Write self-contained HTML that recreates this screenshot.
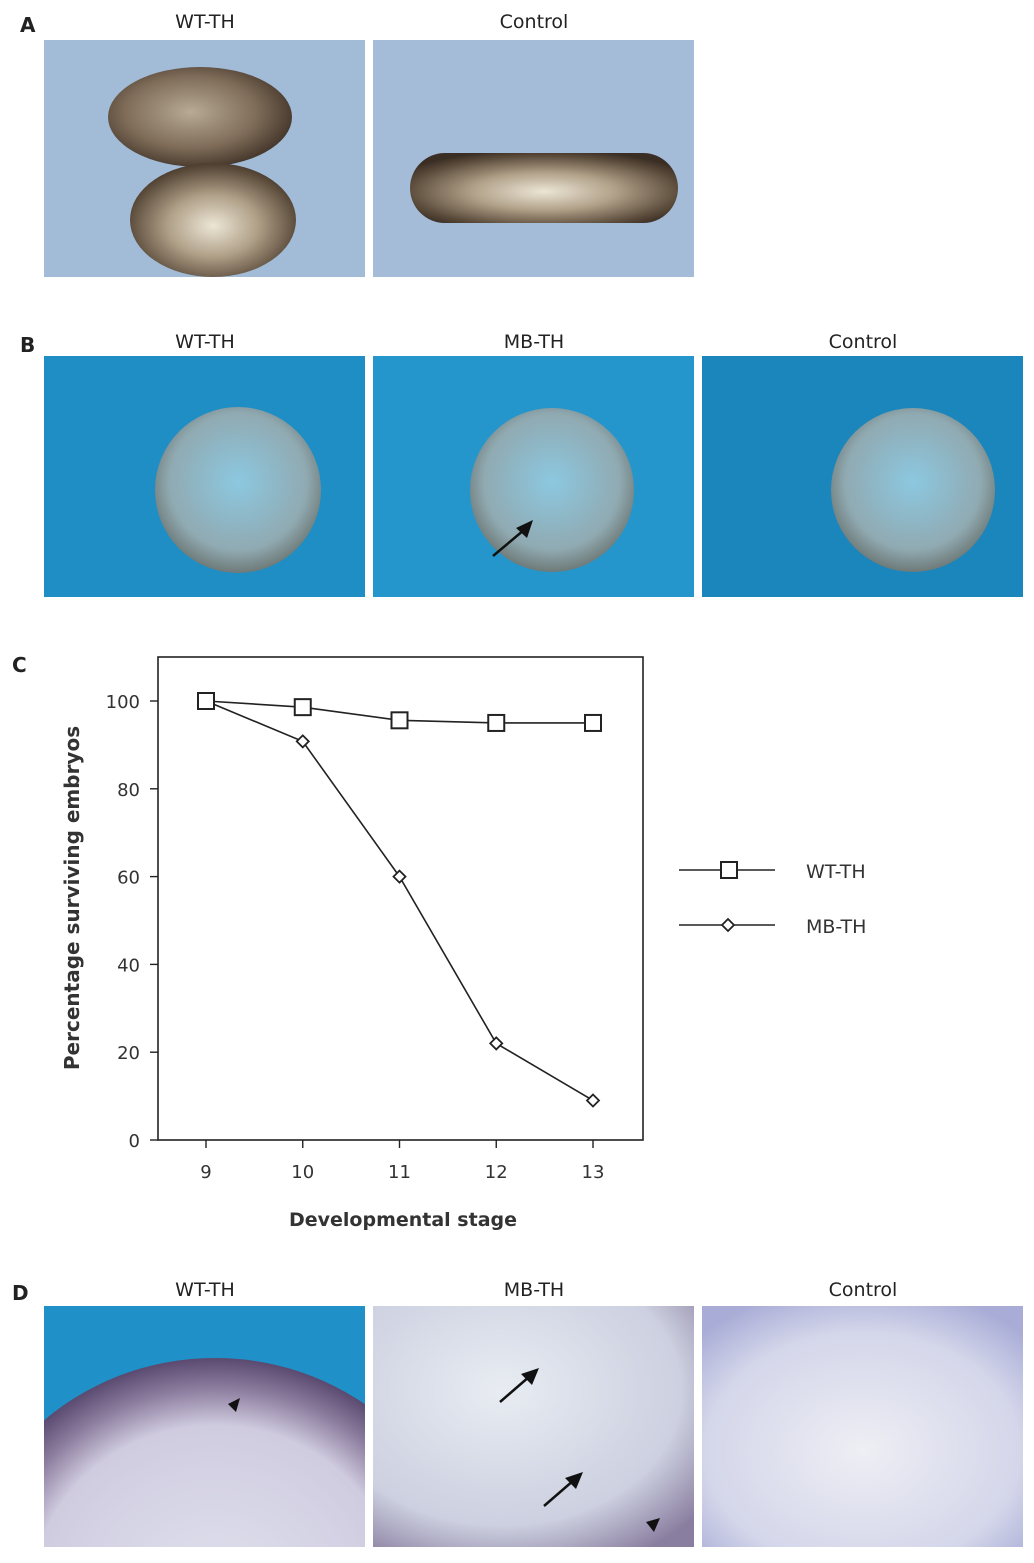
<!DOCTYPE html>
<html><head><meta charset="utf-8"><style>
html,body{margin:0;padding:0;background:#fff;overflow:hidden;width:1034px;height:1563px;}
svg{display:block;font-family:"DejaVu Sans","Liberation Sans",sans-serif;}
</style></head><body>
<svg width="1034" height="1563" viewBox="0 0 1034 1563">
<defs>
<radialGradient id="eggDark" cx="50%" cy="55%" r="60%"><stop offset="0" stop-color="#ece6d6"/><stop offset="0.45" stop-color="#b0a088"/><stop offset="0.85" stop-color="#5a4a3a"/><stop offset="1" stop-color="#3a2e24"/></radialGradient>
<radialGradient id="eggBrown" cx="45%" cy="45%" r="60%"><stop offset="0" stop-color="#b8aa94"/><stop offset="0.6" stop-color="#7e6c58"/><stop offset="1" stop-color="#3e3026"/></radialGradient>
<radialGradient id="eggB" cx="50%" cy="45%" r="55%"><stop offset="0" stop-color="#8cc8e0"/><stop offset="0.75" stop-color="#90aab2"/><stop offset="1" stop-color="#6e7a78"/></radialGradient>
<radialGradient id="dWT" cx="50%" cy="50%" r="50%"><stop offset="0" stop-color="#dfe2ee"/><stop offset="0.72" stop-color="#d0cce0"/><stop offset="0.88" stop-color="#8a7a9c"/><stop offset="1" stop-color="#5a4a70"/></radialGradient>
<radialGradient id="dMB" cx="40%" cy="35%" r="80%"><stop offset="0" stop-color="#e8ecf2"/><stop offset="0.7" stop-color="#ccd0e0"/><stop offset="1" stop-color="#8a7ea0"/></radialGradient>
<radialGradient id="dC" cx="50%" cy="60%" r="70%"><stop offset="0" stop-color="#eeeef4"/><stop offset="0.7" stop-color="#d4d6ea"/><stop offset="1" stop-color="#a8acd6"/></radialGradient>
<clipPath id="clipDWT"><rect x="44" y="1306" width="321" height="241"/></clipPath>
</defs>
<g font-size="19" fill="#222">
<text x="20" y="32" font-weight="bold" font-size="20">A</text>
<text x="205" y="28" text-anchor="middle">WT-TH</text>
<text x="534" y="28" text-anchor="middle">Control</text>
<text x="20" y="352" font-weight="bold" font-size="20">B</text>
<text x="205" y="348" text-anchor="middle">WT-TH</text>
<text x="534" y="348" text-anchor="middle">MB-TH</text>
<text x="863" y="348" text-anchor="middle">Control</text>
<text x="12" y="672" font-weight="bold" font-size="20">C</text>
<text x="12" y="1300" font-weight="bold" font-size="20">D</text>
<text x="205" y="1296" text-anchor="middle">WT-TH</text>
<text x="534" y="1296" text-anchor="middle">MB-TH</text>
<text x="863" y="1296" text-anchor="middle">Control</text>
</g>
<g>
<rect x="44" y="40" width="321" height="237" fill="#a2bcd8"/>
<ellipse cx="200" cy="117" rx="92" ry="50" fill="url(#eggBrown)"/>
<ellipse cx="213" cy="220" rx="83" ry="57" fill="url(#eggDark)"/>
</g>
<g>
<rect x="373" y="40" width="321" height="237" fill="#a4bcd8"/>
<rect x="410" y="153" width="268" height="70" rx="35" fill="url(#eggDark)"/>
</g>
<g>
<rect x="44" y="356" width="321" height="241" fill="#1f8ec4"/>
<circle cx="238" cy="490" r="83" fill="url(#eggB)"/>
</g>
<g>
<rect x="373" y="356" width="321" height="241" fill="#2596cc"/>
<circle cx="552" cy="490" r="82" fill="url(#eggB)"/>
<line x1="493" y1="556" x2="524" y2="530" stroke="#111" stroke-width="2.5"/>
<polygon points="533,520 516,528 527,538" fill="#111"/>
</g>
<g>
<rect x="702" y="356" width="321" height="241" fill="#1a86bc"/>
<circle cx="913" cy="490" r="82" fill="url(#eggB)"/>
</g>
<g clip-path="url(#clipDWT)">
<rect x="44" y="1306" width="321" height="241" fill="#1f90c8"/>
<ellipse cx="215" cy="1600" rx="255" ry="242" fill="url(#dWT)"/>
<polygon points="228,1404 240,1398 236,1412" fill="#111"/>
</g>
<g>
<rect x="373" y="1306" width="321" height="241" fill="url(#dMB)"/>
<line x1="500" y1="1402" x2="530" y2="1376" stroke="#111" stroke-width="2.5"/>
<polygon points="539,1368 521,1374 532,1385" fill="#111"/>
<line x1="544" y1="1506" x2="574" y2="1480" stroke="#111" stroke-width="2.5"/>
<polygon points="583,1472 565,1478 576,1489" fill="#111"/>
<polygon points="646,1522 660,1518 654,1532" fill="#111"/>
</g>
<g>
<rect x="702" y="1306" width="321" height="241" fill="url(#dC)"/>
</g>
<g id="chart"></g>
</svg>
<script>
const stages = [9, 10, 11, 12, 13];
const wtValues = [100, 98.6, 95.6, 95, 95];
const mbValues = [100, 90.8, 60, 22, 9];
const yTicks = [0, 20, 40, 60, 80, 100];
const seriesNames = ['WT-TH', 'MB-TH'];

const NS = 'http://www.w3.org/2000/svg';
const g = document.getElementById('chart');
const X = s => 206 + (s - 9) * 96.75;
const Y = v => 1140 - v * 4.39;
function mk(tag, attrs, parent) {
  const e = document.createElementNS(NS, tag);
  for (const k in attrs) e.setAttribute(k, attrs[k]);
  (parent || g).appendChild(e);
  return e;
}
const frame = mk('rect', {x:158, y:657, width:485, height:483, fill:'none', stroke:'#222', 'stroke-width':1.6});


const yAxis = mk('g', {});


yTicks.forEach(t => {
  mk('line', {x1:150, x2:158, y1:Y(t), y2:Y(t), stroke:'#222', 'stroke-width':1.4}, yAxis);
  const tx = mk('text', {x:140, y:Y(t) + 7, 'text-anchor':'end', 'font-size':18, fill:'#333'}, yAxis);
  tx.textContent = t;
  
  
});
const xAxis = mk('g', {});


stages.forEach(s => {
  mk('line', {x1:X(s), x2:X(s), y1:1140, y2:1148, stroke:'#222', 'stroke-width':1.4}, xAxis);
  const tx = mk('text', {x:X(s), y:1178, 'text-anchor':'middle', 'font-size':18, fill:'#333'}, xAxis);
  tx.textContent = s;
  
  
});
const xt = mk('text', {x:403, y:1226, 'text-anchor':'middle', 'font-size':19, 'font-weight':'bold', fill:'#333'});
xt.textContent = 'Developmental stage';


const yt = mk('text', {x:0, y:0, 'text-anchor':'middle', 'font-size':20, 'font-weight':'bold', fill:'#333', transform:'translate(79,898) rotate(-90)'});
yt.textContent = 'Percentage surviving embryos';



function square(cx, cy, r, parent) {
  return mk('rect', {x:cx - r, y:cy - r, width:2*r, height:2*r, fill:'#fff', stroke:'#222', 'stroke-width':2}, parent);
}
function diamond(cx, cy, r, parent) {
  return mk('polygon', {points:`${cx},${cy-r} ${cx+r},${cy} ${cx},${cy+r} ${cx-r},${cy}`, fill:'#fff', stroke:'#222', 'stroke-width':1.8}, parent);
}
const mbLine = mk('polyline', {points: stages.map((s,i) => X(s)+','+Y(mbValues[i])).join(' '), fill:'none', stroke:'#222', 'stroke-width':1.6});


const wtLine = mk('polyline', {points: stages.map((s,i) => X(s)+','+Y(wtValues[i])).join(' '), fill:'none', stroke:'#222', 'stroke-width':1.6});


stages.forEach((s,i) => {
  const d = diamond(X(s), Y(mbValues[i]), 6);
  
  
});
stages.forEach((s,i) => {
  const q = square(X(s), Y(wtValues[i]), 8);
  
  
});
const leg = mk('g', {});


const le1 = mk('g', {}, leg);


mk('line', {x1:679, x2:775, y1:870, y2:870, stroke:'#222', 'stroke-width':1.6}, le1);
square(729, 870, 8, le1);
const l1 = mk('text', {x:806, y:878, 'font-size':19, fill:'#333'}, le1); l1.textContent = seriesNames[0];
const le2 = mk('g', {}, leg);


mk('line', {x1:679, x2:775, y1:925, y2:925, stroke:'#222', 'stroke-width':1.6}, le2);
diamond(728, 925, 6, le2);
const l2 = mk('text', {x:806, y:933, 'font-size':19, fill:'#333'}, le2); l2.textContent = seriesNames[1];
</script>
</body></html>
